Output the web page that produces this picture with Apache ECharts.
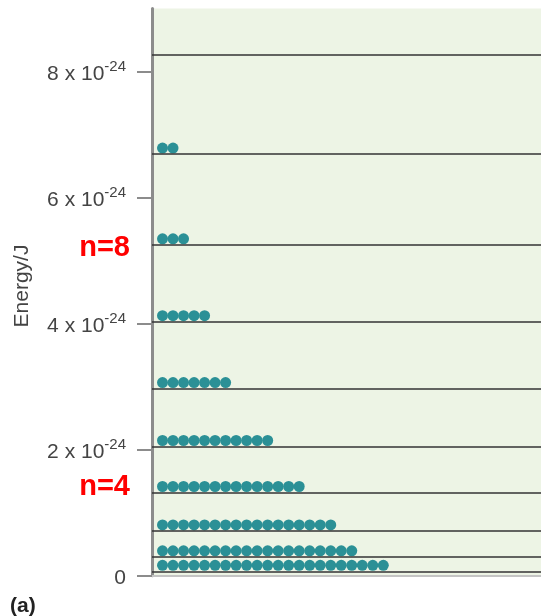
<!DOCTYPE html>
<html><head><meta charset="utf-8">
<script src="https://cdn.jsdelivr.net/npm/echarts@6/dist/echarts.min.js"></script>
<style>html,body{margin:0;padding:0;background:#fff}#c{width:541px;height:616px}</style>
</head><body><div id="c"></div>
<script>
// Energy levels (units of 1e-24 J)
const levelNumbers = [1, 2, 3, 4, 5, 6, 7, 8, 9, 10];
const levelEnergies = [0.07, 0.30, 0.71, 1.32, 2.05, 2.97, 4.03, 5.25, 6.69, 8.27];
// number of particles (dots) resting on each level
const particleCounts = [22, 19, 17, 14, 11, 7, 5, 3, 2, 0];
// y-axis ticks
const tickValues = [0, 2, 4, 6, 8];
const tickMantissas = ['0', '2 x 10', '4 x 10', '6 x 10', '8 x 10'];
const tickExponent = '-24';
// annotations
const labeledLevels = [4, 8];
const yAxisTitle = 'Energy/J';
const panelLabel = '(a)';

const FONT = '"Liberation Sans", Arial, Helvetica, sans-serif';

const dots = [];
levelNumbers.forEach((n, i) => {
  for (let k = 1; k <= particleCounts[i]; k++) dots.push([k, levelEnergies[i]]);
});

const chart = echarts.init(document.getElementById('c'), null, {renderer: 'canvas'});
chart.setOption({
  animation: false,
  grid: {left: 152, right: 0, top: 8.5, bottom: 40.3, show: true,
         backgroundColor: '#EDF4E5', borderWidth: 0},
  xAxis: {
    type: 'value', min: 0, max: 37,
    axisLine: {show: true, lineStyle: {color: '#c4c4c4', width: 2}},
    axisTick: {show: false}, axisLabel: {show: false}, splitLine: {show: false}
  },
  yAxis: {
    type: 'value', min: 0, max: 9,
    axisLine: {show: true, lineStyle: {color: '#8c8c8c', width: 3}},
    axisTick: {show: true, inside: false, length: 15, customValues: tickValues,
               lineStyle: {color: '#8c8c8c', width: 2}},
    splitLine: {show: false},
    axisLabel: {
      customValues: tickValues, margin: 26,
      formatter: function (v) {
        const i = tickValues.indexOf(v);
        if (i < 0) return '';
        if (v === 0) return '{b|' + tickMantissas[i] + '}';
        return '{b|' + tickMantissas[i] + '}{s|' + tickExponent + '}';
      },
      rich: {
        b: {fontSize: 21, color: '#444', fontFamily: FONT, padding: [6, 0, 0, 0]},
        s: {fontSize: 15, color: '#444', fontFamily: FONT, padding: [0, 0, 9, 0]}
      }
    }
  },
  series: [
    {
      type: 'scatter', data: [], z: 1, silent: true,
      markLine: {
        silent: true, symbol: ['none', 'none'], label: {show: false},
        lineStyle: {color: '#333', width: 1.6, type: 'solid'},
        emphasis: {disabled: true},
        data: levelEnergies.map(v => ({yAxis: v}))
      }
    },
    {
      type: 'scatter', data: dots, z: 3, silent: true,
      symbol: 'circle', symbolSize: 11, symbolOffset: [0, -6],
      itemStyle: {color: '#2B9096', opacity: 1}
    }
  ]
});

const graphics = [];
labeledLevels.forEach((n) => {
  const i = levelNumbers.indexOf(n);
  const y = chart.convertToPixel({yAxisIndex: 0}, levelEnergies[i]);
  graphics.push({
    type: 'text', x: 130, y: y + (n === 4 ? -6 : 3),
    style: {text: 'n=' + n, fill: '#FF0000', font: 'bold 29px ' + FONT,
            textAlign: 'right', textVerticalAlign: 'middle'}
  });
});
graphics.push({
  type: 'text', x: 22, y: 286, rotation: Math.PI / 2,
  style: {text: yAxisTitle, fill: '#444', font: '21px ' + FONT,
          textAlign: 'center', textVerticalAlign: 'middle'}
});
graphics.push({
  type: 'text', x: 10, y: 606,
  style: {text: panelLabel, fill: '#222', font: 'bold 21px ' + FONT,
          textAlign: 'left', textVerticalAlign: 'middle'}
});
chart.setOption({graphic: graphics});
</script></body></html>
